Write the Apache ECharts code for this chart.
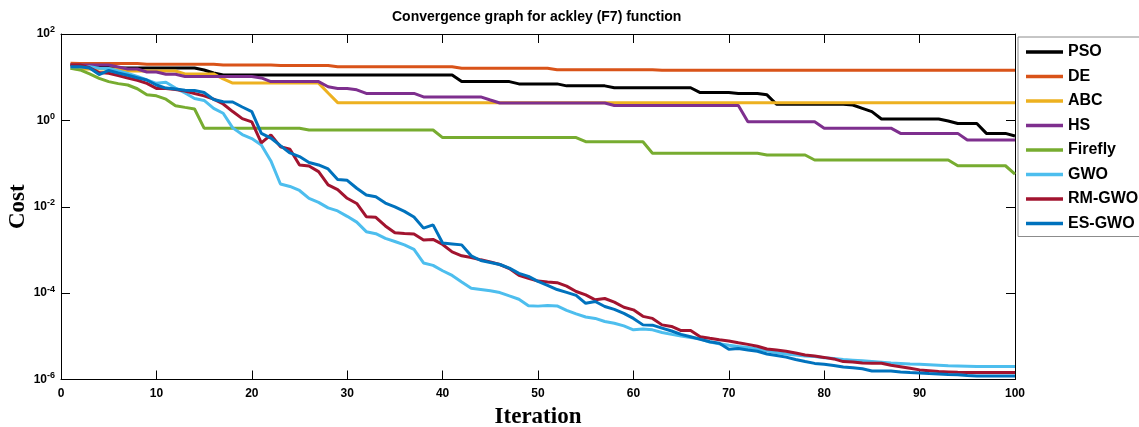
<!DOCTYPE html>
<html>
<head>
<meta charset="utf-8">
<title>Convergence graph for ackley (F7) function</title>
<script src="https://cdn.jsdelivr.net/npm/echarts@6/dist/echarts.min.js"></script>
<style>
  html, body { margin: 0; padding: 0; background: #fff; }
  #chart { width: 1139px; height: 427px; }
</style>
</head>
<body>
<div id="chart"></div>
<script>
// iteration numbers 1..100
const iterations = Array.from({ length: 100 }, (_, i) => i + 1);

const seriesNames = ["PSO", "DE", "ABC", "HS", "Firefly", "GWO", "RM-GWO", "ES-GWO"];
const seriesColors = ["#000000", "#D95319", "#EDB120", "#7E2F8E", "#77AC30", "#4DBEEE", "#A2142F", "#0072BD"];

const yTickValues = [1e-6, 1e-4, 1e-2, 1, 1e2];

const pso = [
  19.7, 17.7, 17.7, 17.7, 17.7, 16.3, 16.3, 16.3, 16.3, 16.3,
  16.3, 16.3, 16.3, 16.3, 14.7, 12.5, 11.2, 11.2, 11.2, 11.2,
  11.2, 11.2, 11.2, 11.2, 11.2, 11.2, 11.2, 11.2, 11.2, 11.2,
  11.2, 11.2, 11.2, 11.2, 11.2, 11.2, 11.2, 11.2, 11.2, 11.2,
  11.2, 7.9, 7.9, 7.9, 7.9, 7.9, 7.9, 7.0, 7.0, 7.0,
  7.0, 7.0, 6.3, 6.3, 6.3, 6.3, 6.3, 5.7, 5.7, 5.7,
  5.7, 5.7, 5.7, 5.7, 5.7, 5.7, 4.4, 4.4, 4.4, 4.4,
  4.2, 4.2, 4.2, 3.9, 2.36, 2.36, 2.36, 2.36, 2.36, 2.36,
  2.36, 2.36, 2.27, 1.9, 1.59, 1.08, 1.08, 1.08, 1.08, 1.08,
  1.08, 1.08, 0.97, 0.85, 0.85, 0.85, 0.5, 0.5, 0.5, 0.435
];

const de = [
  21.0, 20.7, 20.7, 20.7, 20.7, 20.7, 20.7, 20.7, 20.0, 20.0,
  20.0, 20.0, 20.0, 20.0, 20.0, 20.0, 19.1, 19.1, 19.1, 19.1,
  19.1, 19.1, 18.7, 18.7, 18.7, 18.7, 18.7, 18.7, 17.5, 17.5,
  17.5, 17.5, 17.5, 17.5, 17.5, 17.5, 17.5, 17.5, 17.5, 17.5,
  17.5, 16.1, 16.1, 16.1, 16.1, 16.1, 16.1, 16.1, 16.1, 16.1,
  16.1, 14.9, 14.9, 14.9, 14.9, 14.9, 14.9, 14.9, 14.9, 14.9,
  14.9, 14.9, 14.5, 14.5, 14.5, 14.5, 14.5, 14.5, 14.5, 14.5,
  14.5, 14.5, 14.5, 14.5, 14.5, 14.5, 14.5, 14.5, 14.5, 14.5,
  14.5, 14.5, 14.5, 14.5, 14.5, 14.5, 14.5, 14.5, 14.5, 14.5,
  14.5, 14.5, 14.5, 14.5, 14.5, 14.5, 14.5, 14.5, 14.5, 14.5
];

const abc = [
  16.1, 15.5, 15.5, 15.5, 15.5, 15.5, 13.9, 13.9, 13.9, 13.9,
  13.9, 13.9, 11.9, 11.9, 11.9, 11.9, 9.1, 7.3, 7.3, 7.3,
  7.3, 7.3, 7.3, 7.3, 7.3, 7.3, 7.3, 4.3, 2.57, 2.57,
  2.57, 2.57, 2.57, 2.57, 2.57, 2.57, 2.57, 2.57, 2.57, 2.57,
  2.57, 2.57, 2.57, 2.57, 2.57, 2.57, 2.57, 2.57, 2.57, 2.57,
  2.57, 2.57, 2.57, 2.57, 2.57, 2.57, 2.57, 2.57, 2.57, 2.57,
  2.57, 2.57, 2.57, 2.57, 2.57, 2.57, 2.57, 2.57, 2.57, 2.57,
  2.57, 2.57, 2.57, 2.57, 2.57, 2.57, 2.57, 2.57, 2.57, 2.57,
  2.57, 2.57, 2.57, 2.57, 2.57, 2.57, 2.57, 2.57, 2.57, 2.57,
  2.57, 2.57, 2.57, 2.57, 2.57, 2.57, 2.57, 2.57, 2.57, 2.57
];

const hs = [
  19.1, 19.1, 19.1, 19.1, 19.1, 17.2, 15.5, 15.5, 13.2, 13.2,
  11.7, 11.7, 10.4, 10.4, 10.4, 10.4, 10.4, 10.4, 10.4, 10.4,
  9.6, 7.9, 7.9, 7.9, 7.9, 7.9, 7.9, 6.0, 5.5, 5.5,
  5.1, 4.2, 4.2, 4.2, 4.2, 4.2, 4.2, 3.5, 3.5, 3.5,
  3.5, 3.5, 3.5, 3.5, 2.97, 2.53, 2.53, 2.53, 2.53, 2.53,
  2.53, 2.53, 2.53, 2.53, 2.53, 2.53, 2.53, 2.21, 2.21, 2.21,
  2.21, 2.21, 2.21, 2.21, 2.21, 2.21, 2.21, 2.21, 2.21, 2.21,
  2.21, 0.93, 0.93, 0.93, 0.93, 0.93, 0.93, 0.93, 0.93, 0.66,
  0.66, 0.66, 0.66, 0.66, 0.66, 0.66, 0.66, 0.5, 0.5, 0.5,
  0.5, 0.5, 0.5, 0.5, 0.35, 0.35, 0.35, 0.35, 0.35, 0.35
];

const firefly = [
  16.1, 14.7, 11.9, 9.4, 7.9, 7.1, 6.6, 5.4, 3.9, 3.7,
  3.1, 2.19, 2.0, 1.83, 0.66, 0.66, 0.66, 0.66, 0.66, 0.66,
  0.66, 0.66, 0.66, 0.66, 0.66, 0.6, 0.6, 0.6, 0.6, 0.6,
  0.6, 0.6, 0.6, 0.6, 0.6, 0.6, 0.6, 0.6, 0.6, 0.4,
  0.4, 0.4, 0.4, 0.4, 0.4, 0.4, 0.4, 0.4, 0.4, 0.4,
  0.4, 0.4, 0.4, 0.4, 0.32, 0.32, 0.32, 0.32, 0.32, 0.32,
  0.32, 0.173, 0.173, 0.173, 0.173, 0.173, 0.173, 0.173, 0.173, 0.173,
  0.173, 0.173, 0.173, 0.158, 0.158, 0.158, 0.158, 0.158, 0.121, 0.121,
  0.121, 0.121, 0.121, 0.121, 0.121, 0.121, 0.121, 0.121, 0.121, 0.121,
  0.121, 0.121, 0.121, 0.089, 0.089, 0.089, 0.089, 0.089, 0.089, 0.057
];

const gwo = [
  17.5, 17.5, 17.5, 16.1, 15.9, 13.9, 12.2, 10.4, 8.6, 7.2,
  7.6, 5.6, 4.3, 3.2, 2.9, 1.9, 1.46, 0.67, 0.47, 0.38,
  0.27, 0.115, 0.0337, 0.0295, 0.0238, 0.0156, 0.0126, 0.0094, 0.008, 0.006,
  0.0044, 0.00265, 0.00238, 0.00185, 0.00157, 0.00131, 0.00103, 0.0005, 0.00044, 0.00033,
  2.57e-4, 1.82e-4, 1.3e-4, 1.22e-4, 1.14e-4, 1.03e-4, 8.6e-5, 7.2e-5, 5.1e-5, 5.0e-5,
  5.14e-5, 5.06e-5, 4.0e-5, 3.3e-5, 2.8e-5, 2.6e-5, 2.2e-5, 2.0e-5, 1.74e-5, 1.41e-5,
  1.48e-5, 1.41e-5, 1.23e-5, 1.11e-5, 1.02e-5, 9.4e-6, 8.8e-6, 7.4e-6, 6.7e-6, 6.2e-6,
  5.8e-6, 5.5e-6, 5.1e-6, 4.6e-6, 4.2e-6, 3.9e-6, 3.7e-6, 3.5e-6, 3.4e-6, 3.2e-6,
  3.05e-6, 2.9e-6, 2.8e-6, 2.7e-6, 2.6e-6, 2.5e-6, 2.4e-6, 2.36e-6, 2.3e-6, 2.25e-6,
  2.2e-6, 2.14e-6, 2.07e-6, 2.05e-6, 2.03e-6, 2.01e-6, 2.0e-6, 2.0e-6, 2.0e-6, 2.0e-6
];

const rmGwo = [
  19.1, 19.1, 16.5, 12.8, 12.3, 10.9, 9.6, 8.5, 7.2, 5.5,
  5.5, 5.2, 4.8, 4.2, 3.7, 3.1, 2.4, 1.6, 1.1, 0.92,
  0.3, 0.46, 0.246, 0.214, 0.093, 0.088, 0.065, 0.032, 0.025, 0.0157,
  0.0119, 0.0059, 0.0057, 0.0036, 0.0025, 0.0024, 0.00234, 0.0017, 0.00175, 0.00134,
  9.0e-4, 7.3e-4, 6.7e-4, 5.9e-4, 5.3e-4, 4.6e-4, 3.7e-4, 2.6e-4, 2.2e-4, 1.9e-4,
  1.8e-4, 1.75e-4, 1.45e-4, 1.09e-4, 9.1e-5, 7.0e-5, 7.5e-5, 6.2e-5, 4.7e-5, 4.1e-5,
  2.9e-5, 2.6e-5, 1.84e-5, 1.69e-5, 1.36e-5, 1.36e-5, 9.8e-6, 9.0e-6, 8.3e-6, 7.8e-6,
  7.1e-6, 6.5e-6, 5.9e-6, 5.1e-6, 4.8e-6, 4.5e-6, 4.1e-6, 3.7e-6, 3.5e-6, 3.25e-6,
  3.0e-6, 2.6e-6, 2.55e-6, 2.4e-6, 2.38e-6, 2.38e-6, 2.14e-6, 1.98e-6, 1.82e-6, 1.67e-6,
  1.6e-6, 1.53e-6, 1.5e-6, 1.47e-6, 1.45e-6, 1.45e-6, 1.45e-6, 1.45e-6, 1.45e-6, 1.45e-6
];

const esGwo = [
  17.5, 17.5, 16.3, 11.5, 14.3, 12.5, 11.1, 9.7, 8.6, 6.6,
  5.6, 5.3, 5.0, 4.9, 4.4, 3.05, 2.7, 2.67, 2.04, 1.59,
  0.5, 0.39, 0.26, 0.176, 0.145, 0.106, 0.093, 0.075, 0.043, 0.041,
  0.0268, 0.0188, 0.017, 0.0122, 0.0099, 0.0078, 0.0058, 0.0032, 0.0038, 0.00145,
  0.00138, 0.00131, 7.3e-4, 5.7e-4, 5.1e-4, 4.6e-4, 3.8e-4, 2.86e-4, 2.44e-4, 1.87e-4,
  1.51e-4, 1.21e-4, 1.04e-4, 8.9e-5, 5.8e-5, 6.4e-5, 4.9e-5, 4.2e-5, 3.4e-5, 2.6e-5,
  1.84e-5, 1.81e-5, 1.55e-5, 1.33e-5, 1.11e-5, 9.8e-6, 8.5e-6, 7.5e-6, 6.9e-6, 5.0e-6,
  5.2e-6, 4.8e-6, 4.5e-6, 3.9e-6, 3.6e-6, 3.3e-6, 2.9e-6, 2.6e-6, 2.36e-6, 2.26e-6,
  2.12e-6, 1.94e-6, 1.86e-6, 1.78e-6, 1.58e-6, 1.58e-6, 1.58e-6, 1.5e-6, 1.45e-6, 1.41e-6,
  1.37e-6, 1.34e-6, 1.31e-6, 1.29e-6, 1.24e-6, 1.21e-6, 1.21e-6, 1.21e-6, 1.21e-6, 1.21e-6
];

const seriesValues = [pso, de, abc, hs, firefly, gwo, rmGwo, esGwo];

const sansFont = "'Liberation Sans', Arial, sans-serif";
const serifFont = "'Liberation Serif', 'Times New Roman', serif";

// 10^n tick labels
function powerLabel(value) {
  const exp = Math.round(Math.log10(value));
  return "10{sup|" + exp + "}";
}

const tickStyle = { inside: true, length: 9, lineStyle: { color: "#000", width: 1 } };
const lineAxis = { show: true, onZero: false, lineStyle: { color: "#000", width: 1 } };

const option = {
  backgroundColor: "#fff",
  animation: false,
  title: {
    text: "Convergence graph for ackley (F7) function",
    left: 387,
    top: 5,
    textStyle: { fontFamily: sansFont, fontSize: 14, fontWeight: "bold", color: "#000" },
  },
  grid: { left: 61, right: 124, top: 34, bottom: 47.5, containLabel: false, outerBoundsMode: "none" },
  legend: {
    data: seriesNames,
    orient: "vertical",
    left: 1018,
    top: 37,
    padding: [7, 10, 5, 8],
    itemGap: 8.5,
    itemWidth: 37,
    itemHeight: 3.5,
    icon: "rect",
    backgroundColor: "#fff",
    borderColor: "#8c8c8c",
    borderWidth: 1,
    textStyle: { fontFamily: sansFont, fontSize: 16, fontWeight: "bold", color: "#000" },
  },
  xAxis: [
    {
      type: "value",
      min: 0,
      max: 100,
      interval: 10,
      name: "Iteration",
      nameLocation: "middle",
      nameGap: 26,
      nameMoveOverlap: false,
      nameTextStyle: { fontFamily: serifFont, fontSize: 23, fontWeight: "bold", color: "#000" },
      axisLine: lineAxis,
      axisTick: tickStyle,
      axisLabel: { margin: 8, fontFamily: sansFont, fontSize: 12, fontWeight: "bold", color: "#000" },
      splitLine: { show: false },
    },
    {
      type: "value",
      position: "top",
      min: 0,
      max: 100,
      interval: 10,
      axisLine: lineAxis,
      axisTick: tickStyle,
      axisLabel: { show: false },
      splitLine: { show: false },
    },
  ],
  yAxis: [
    {
      type: "log",
      logBase: 100,
      min: yTickValues[0],
      max: yTickValues[yTickValues.length - 1],
      name: "Cost",
      nameLocation: "middle",
      nameGap: 31,
      nameMoveOverlap: false,
      nameTextStyle: { fontFamily: serifFont, fontSize: 23, fontWeight: "bold", color: "#000" },
      axisLine: lineAxis,
      axisTick: tickStyle,
      axisLabel: {
        margin: 6,
        formatter: powerLabel,
        fontFamily: sansFont,
        fontSize: 12,
        fontWeight: "bold",
        color: "#000",
        rich: {
          sup: { fontFamily: sansFont, fontSize: 9, fontWeight: "bold", color: "#000", verticalAlign: "top", padding: [0, 0, 8, 0] },
        },
      },
      splitLine: { show: false },
      minorTick: { show: false },
    },
    {
      type: "log",
      logBase: 100,
      position: "right",
      min: yTickValues[0],
      max: yTickValues[yTickValues.length - 1],
      axisLine: lineAxis,
      axisTick: tickStyle,
      axisLabel: { show: false },
      splitLine: { show: false },
    },
  ],
  series: seriesNames.map((name, k) => ({
    name: name,
    type: "line",
    xAxisIndex: 0,
    yAxisIndex: 0,
    showSymbol: false,
    symbol: "none",
    color: seriesColors[k],
    lineStyle: { color: seriesColors[k], width: 3 },
    data: iterations.map((it, i) => [it, seriesValues[k][i]]),
  })),
};

const chart = echarts.init(document.getElementById("chart"), null, { renderer: "canvas" });
chart.setOption(option);
</script>
</body>
</html>
